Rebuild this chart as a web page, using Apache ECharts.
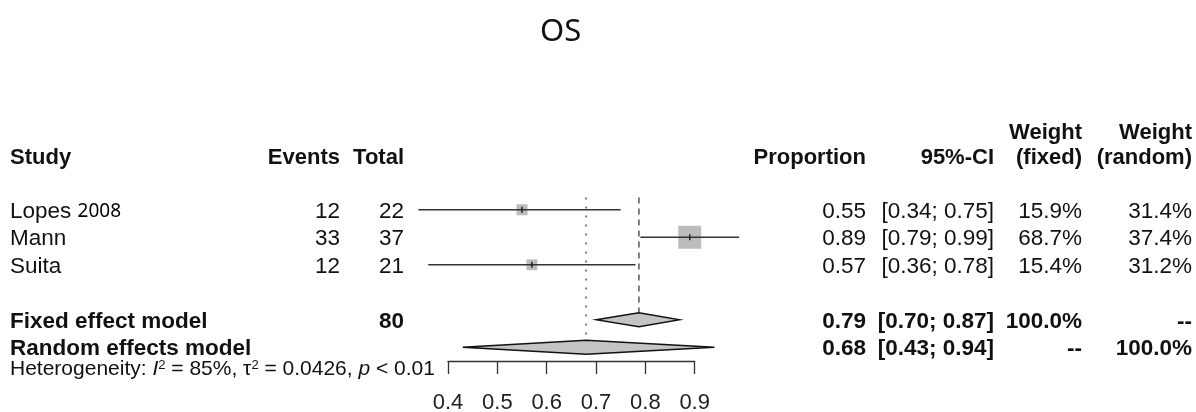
<!DOCTYPE html>
<html><head><meta charset="utf-8">
<script src="https://cdn.jsdelivr.net/npm/echarts@6/dist/echarts.min.js"></script>
<style>html,body{margin:0;padding:0;background:#fff}#c{width:1196px;height:412px}</style>
</head><body><div id="c"></div>
<script>
// ---------- data ----------
const studyNames = ['Lopes', 'Mann', 'Suita'];
const studyTags = ['2008', '', ''];
const events = [12, 33, 12];
const totals = [22, 37, 21];
const proportions = [0.55, 0.89, 0.57];
const ciLower = [0.34, 0.79, 0.36];
const ciUpper = [0.75, 0.99, 0.78];
const weightFixed = [15.9, 68.7, 15.4];
const weightRandom = [31.4, 37.4, 31.2];

const modelNames = ['Fixed effect model', 'Random effects model'];
const modelEstimates = [0.787, 0.68];
const modelLower = [0.70, 0.43];
const modelUpper = [0.87, 0.94];
const modelWeightFixed = ['100.0%', '--'];
const modelWeightRandom = ['--', '100.0%'];

const headerTop = ['', '', '', '', '', 'Weight', 'Weight'];
const headerBottom = ['Study', 'Events', 'Total', 'Proportion', '95%-CI', '(fixed)', '(random)'];
const xTickLabels = ['0.4', '0.5', '0.6', '0.7', '0.8', '0.9'];
const hetI2 = '85%';
const hetTau2 = '0.0426';
const hetP = '< 0.01';
const chartTitle = 'OS';

// ---------- layout ----------
const studyRows = [0, 1, 2];
const modelRows = [4, 5];
const headerRows = [-2.86, -1.95];
const hetRow = 5.72;
const refTopRow = -0.45;
const colX = [10, 340, 404, 866, 994, 1082, 1192];
const colAlign = ['left', 'right', 'right', 'right', 'right', 'right', 'right'];
const FONT = '"Liberation Sans", Arial, Helvetica, sans-serif';
const TXT = '#111';
const DIAMOND_H = 7;
const FS = 22.5;

function txt(x, y, s, align, bold, size) {
  return {
    type: 'text', x: x, y: y,
    style: {
      text: s, fill: TXT, fontFamily: FONT, fontSize: size || FS,
      fontWeight: bold ? 'bold' : 'normal',
      textAlign: align, textVerticalAlign: 'middle'
    }
  };
}
const f2 = v => v.toFixed(2);
const ciStr = (a, b) => '[' + f2(a) + '; ' + f2(b) + ']';

// ---------- series ----------
const studyData = studyNames.map((n, i) => [proportions[i], ciLower[i], ciUpper[i], studyRows[i]]);
const modelData = modelNames.map((n, i) => [modelEstimates[i], modelLower[i], modelUpper[i], modelRows[i]]);
const refData = modelNames.map((n, i) => [modelEstimates[i], refTopRow, modelRows[i]]);

const TDY = 2;

function renderStudy(params, api) {
  const i = params.dataIndex;
  const y = api.value(3);
  const pe = api.coord([api.value(0), y]);
  const pl = api.coord([api.value(1), y]);
  const ph = api.coord([api.value(2), y]);
  const yc = pe[1];
  const s = 2.77 * Math.sqrt(weightFixed[i]);
  const children = [
    { type: 'rect', shape: { x: pe[0] - s / 2, y: yc - s / 2, width: s, height: s }, style: { fill: '#bcbcbc' } },
    { type: 'line', shape: { x1: pl[0], y1: yc, x2: ph[0], y2: yc }, style: { stroke: '#333', lineWidth: 1.5 } },
    { type: 'line', shape: { x1: pe[0], y1: yc - 3, x2: pe[0], y2: yc + 3 }, style: { stroke: '#222', lineWidth: 1.5 } }
  ];
  const ty = yc + TDY;
  const name = studyTags[i]
    ? { type: 'text', x: colX[0], y: ty, style: {
        text: '{a|' + studyNames[i] + ' }{b|' + studyTags[i] + '}',
        textAlign: 'left', textVerticalAlign: 'middle',
        rich: {
          a: { fill: TXT, fontFamily: FONT, fontSize: FS },
          b: { fill: '#000', fontFamily: '"Noto Sans", sans-serif', fontSize: 19 }
        } } }
    : txt(colX[0], ty, studyNames[i], 'left', false);
  children.push(name);
  children.push(txt(colX[1], ty, String(events[i]), 'right'));
  children.push(txt(colX[2], ty, String(totals[i]), 'right'));
  children.push(txt(colX[3], ty, f2(proportions[i]), 'right'));
  children.push(txt(colX[4], ty, ciStr(ciLower[i], ciUpper[i]), 'right'));
  children.push(txt(colX[5], ty, weightFixed[i].toFixed(1) + '%', 'right'));
  children.push(txt(colX[6], ty, weightRandom[i].toFixed(1) + '%', 'right'));
  return { type: 'group', children: children };
}

function renderModel(params, api) {
  const i = params.dataIndex;
  const y = api.value(3);
  const pe = api.coord([api.value(0), y]);
  const pl = api.coord([api.value(1), y]);
  const ph = api.coord([api.value(2), y]);
  const yc = pe[1];
  const ty = yc + TDY;
  const children = [
    { type: 'polygon', shape: { points: [[pl[0], yc], [pe[0], yc - DIAMOND_H], [ph[0], yc], [pe[0], yc + DIAMOND_H]] },
      style: { fill: '#c4c4c4', stroke: '#111', lineWidth: 1.3 } },
    txt(colX[0], ty, modelNames[i], 'left', true)
  ];
  if (i === 0) children.push(txt(colX[2], ty, String(totals.reduce((a, b) => a + b, 0)), 'right', true));
  children.push(txt(colX[3], ty, f2(modelEstimates[i]), 'right', true));
  children.push(txt(colX[4], ty, ciStr(modelLower[i], modelUpper[i]), 'right', true));
  children.push(txt(colX[5], ty, modelWeightFixed[i], 'right', true));
  children.push(txt(colX[6], ty, modelWeightRandom[i], 'right', true));
  return { type: 'group', children: children };
}

function renderRef(params, api) {
  const i = params.dataIndex;
  const top = api.coord([api.value(0), api.value(1)]);
  const bot = api.coord([api.value(0), api.value(2)]);
  return {
    type: 'line',
    shape: { x1: top[0], y1: top[1], x2: bot[0], y2: bot[1] - DIAMOND_H },
    style: { stroke: '#555', lineWidth: 1.5, lineDash: i === 0 ? [6, 5] : [2, 7] }
  };
}

function renderHeader(params, api) {
  const r = params.dataIndex;
  const y = api.coord([0.4, api.value(0)])[1] + TDY;
  const labels = r === 0 ? headerTop : headerBottom;
  const children = [];
  labels.forEach((s, c) => { if (s) children.push(txt(colX[c], y, s, colAlign[c], true, 22)); });
  return { type: 'group', children: children };
}

function renderHet(params, api) {
  const y = api.coord([0.4, api.value(0)])[1] + TDY;
  const base = { fill: TXT, fontFamily: FONT, fontSize: 21 };
  return {
    type: 'text', x: colX[0], y: y,
    style: {
      text: '{n|Heterogeneity: }{i|I}{s|2}{n| = ' + hetI2 + ', τ}{s|2}{n| = ' + hetTau2 + ', }{i|p}{n| ' + hetP + '}',
      textAlign: 'left', textVerticalAlign: 'middle',
      rich: {
        n: base,
        i: Object.assign({}, base, { fontStyle: 'italic' }),
        s: { fill: TXT, fontFamily: FONT, fontSize: 13, verticalAlign: 'top', lineHeight: 20 }
      }
    }
  };
}

const chart = echarts.init(document.getElementById('c'), null, { renderer: 'canvas' });
chart.setOption({
  animation: false,
  backgroundColor: '#fff',
  title: {
    text: chartTitle, left: 540, top: 17, padding: 0,
    textStyle: { fontSize: 31, fontWeight: 'normal', color: '#111', fontFamily: '"Noto Sans", "Open Sans", sans-serif' }
  },
  grid: { left: 448, right: 1196 - 694.67, top: 127.25, bottom: 51, containLabel: false, outerBoundsMode: 'none' },
  xAxis: {
    type: 'value', min: 0.4, max: 0.9, interval: 0.1,
    axisLine: { show: true, onZero: false, lineStyle: { color: '#333', width: 1.3 } },
    axisTick: { show: true, length: 13, inside: false, lineStyle: { color: '#333', width: 1.3 } },
    axisLabel: {
      fontSize: 22, color: '#222', fontFamily: FONT, margin: 31,
      formatter: v => { const k = Math.round((v - 0.4) / 0.1); return xTickLabels[k] || ''; }
    },
    splitLine: { show: false }
  },
  yAxis: { type: 'value', min: -3, max: 5.5, inverse: true, show: false, splitLine: { show: false } },
  series: [
    { type: 'custom', name: 'ref', data: refData, renderItem: renderRef, clip: false, silent: true, encode: { x: 0, y: [1, 2] } },
    { type: 'custom', name: 'studies', data: studyData, renderItem: renderStudy, clip: false, silent: true, encode: { x: [0, 1, 2], y: 3 } },
    { type: 'custom', name: 'models', data: modelData, renderItem: renderModel, clip: false, silent: true, encode: { x: [0, 1, 2], y: 3 } },
    { type: 'custom', name: 'header', data: headerRows.map(r => [r]), renderItem: renderHeader, clip: false, silent: true, encode: { y: 0 } },
    { type: 'custom', name: 'het', data: [[hetRow]], renderItem: renderHet, clip: false, silent: true, encode: { y: 0 } }
  ]
});
</script></body></html>
